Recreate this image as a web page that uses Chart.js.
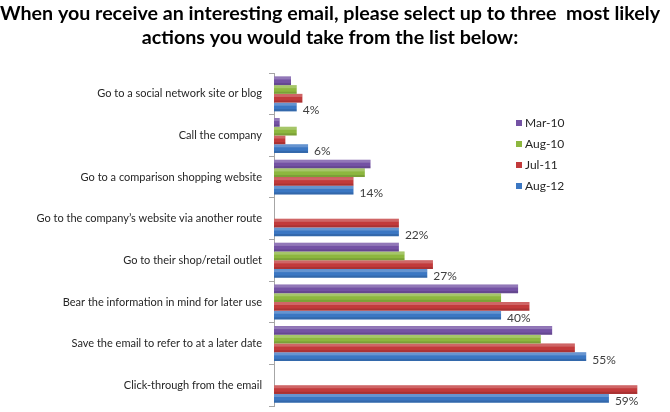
<!DOCTYPE html>
<html>
<head>
<meta charset="utf-8">
<script src="https://cdn.jsdelivr.net/npm/chart.js@4"></script>
<style>
  html, body { margin:0; padding:0; background:#fff; }
  #wrap { width:670px; height:412px; }
</style>
</head>
<body>
<div id="wrap"><canvas id="emailChart" width="670" height="412"></canvas></div>
<script>
// ── Data ───────────────────────────────────────
const categories = [
  'Go to a social network site or blog',
  'Call the company',
  'Go to a comparison shopping website',
  'Go to the company\u2019s website via another route',
  'Go to their shop/retail outlet',
  'Bear the information in mind for later use',
  'Save the email to refer to at a later date',
  'Click-through from the email',
];
const seriesNames = ['Mar-10', 'Aug-10', 'Jul-11', 'Aug-12'];
const mar10 = [3, 1, 17, null, 22, 43, 49, null];
const aug10 = [4, 4, 16, null, 23, 40, 47, null];
const jul11 = [5, 2, 14, 22, 28, 45, 53, 64];
const aug12 = [4, 6, 14, 22, 27, 40, 55, 59];
const colors = ['#7452a4', '#8db73f', '#c23a3b', '#3b77c3'];

const FONT = 'Lato, "Open Sans", sans-serif';

// ── Plugins ────────────────────────────────────
// soft shading on each bar, a bit like the old Excel look
const barShade = {
  id: 'barShade',
  afterDatasetsDraw(chart) {
    const ctx = chart.ctx;
    chart.data.datasets.forEach((ds, i) => {
      chart.getDatasetMeta(i).data.forEach((bar, j) => {
        if (ds.data[j] == null) return;
        const { x, y, base, height } = bar.getProps(['x', 'y', 'base', 'height'], true);
        const top = y - height / 2;
        ctx.save();
        ctx.fillStyle = 'rgba(255,255,255,0.22)';
        ctx.fillRect(base, top, x - base, height * 0.35);
        ctx.fillStyle = 'rgba(0,0,0,0.12)';
        ctx.fillRect(base, top + height * 0.75, x - base, height * 0.25);
        ctx.restore();
      });
    });
  }
};

// percent labels on the latest series only
const valueLabels = {
  id: 'valueLabels',
  afterDatasetsDraw(chart) {
    const ctx = chart.ctx;
    const last = chart.data.datasets.length - 1;
    const ds = chart.data.datasets[last];
    ctx.save();
    ctx.font = '12px ' + FONT;
    ctx.fillStyle = '#404040';
    ctx.textBaseline = 'middle';
    chart.getDatasetMeta(last).data.forEach((bar, j) => {
      if (ds.data[j] == null) return;
      ctx.fillText(ds.data[j] + '%', bar.x + 6, bar.y + 3);
    });
    ctx.restore();
  }
};

// legend floating inside the plot, top right
const floatLegend = {
  id: 'floatLegend',
  afterDraw(chart) {
    const ctx = chart.ctx;
    const x = 516, y0 = 123, gap = 21;
    ctx.save();
    ctx.font = '12px ' + FONT;
    ctx.textBaseline = 'middle';
    chart.data.datasets.forEach((ds, i) => {
      const y = y0 + i * gap;
      ctx.fillStyle = ds.backgroundColor;
      ctx.fillRect(x, y - 3, 6, 6);
      ctx.fillStyle = '#262626';
      ctx.fillText(ds.label, x + 9, y);
    });
    ctx.restore();
  }
};

// ── Chart ──────────────────────────────────────
const seriesData = [mar10, aug10, jul11, aug12];

new Chart(document.getElementById('emailChart'), {
  type: 'bar',
  data: {
    labels: categories,
    datasets: seriesNames.map((name, i) => ({
      label: name,
      data: seriesData[i],
      backgroundColor: colors[i],
      borderWidth: 0,
      categoryPercentage: 0.84,
      barPercentage: 1.0,
    }))
  },
  options: {
    indexAxis: 'y',
    responsive: false,
    animation: false,
    layout: { padding: { left: 0, right: 10, top: 0, bottom: 6 } },
    plugins: {
      legend: { display: false },
      tooltip: { enabled: false },
      title: {
        display: true,
        text: [
          'When you receive an interesting email, please select up to three  most likely',
          'actions you would take from the list below:'
        ],
        color: '#000',
        font: { family: FONT, size: 19.7, weight: 'bold', lineHeight: 1.22 },
        padding: { top: 2, bottom: 23 },
      },
    },
    scales: {
      x: { display: false, min: 0, max: 68 },
      y: {
        grid: { drawOnChartArea: false, drawTicks: true, tickLength: 5, color: '#a6a6a6', offset: true },
        border: { color: '#a6a6a6' },
        ticks: { color: '#262626', font: { family: FONT, size: 11 }, padding: 7 },
        afterFit: s => { s.width = 274; s.paddingTop = 0; s.paddingBottom = 0; },
      }
    }
  },
  plugins: [barShade, valueLabels, floatLegend]
});
</script>
</body>
</html>
